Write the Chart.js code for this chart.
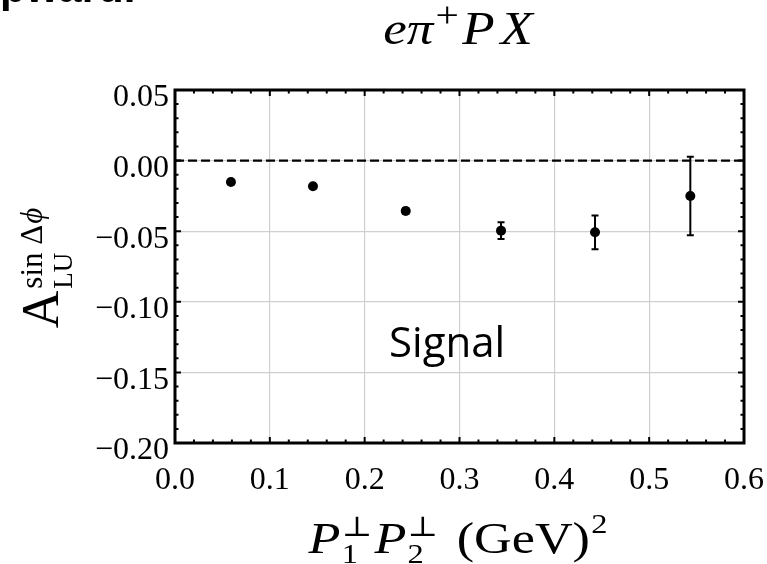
<!DOCTYPE html>
<html lang="en">
<head>
<meta charset="UTF-8">
<title>A_LU sin dphi vs P1 P2</title>
<script src="https://cdn.jsdelivr.net/npm/chart.js"></script>
<style>
  html, body { margin: 0; padding: 0; background: #fff; }
  canvas { display: block; }
</style>
</head>
<body>
<canvas id="asymChart" width="767" height="564"></canvas>
<script>
// values
const ptPerp  = [0.059, 0.1455, 0.2433, 0.3438, 0.4429, 0.5434];
const asym    = [-0.0152, -0.0182, -0.0357, -0.0496, -0.0508, -0.0251];
const asymErr = [0.0012, 0.0012, 0.0022, 0.0059, 0.0119, 0.0278];

const xTicks = [0.0, 0.1, 0.2, 0.3, 0.4, 0.5, 0.6];
const yTicks = [-0.20, -0.15, -0.10, -0.05, 0.00, 0.05];

const SERIF = '"Liberation Serif", "DejaVu Serif", serif';

// draws a row of text pieces, "back" pieces are stacked under the previous one (sub/sup)
function runs(ctx, list, x, y, sx, draw) {
  let cur = 0, lastStart = 0, maxX = 0;
  ctx.save();
  ctx.translate(x, y);
  ctx.scale(sx, 1);
  list.forEach(r => {
    ctx.font = r.f;
    if (r.back) cur = lastStart;
    cur += r.gap || 0;
    lastStart = cur;
    if (draw) ctx.fillText(r.t, cur, r.dy || 0);
    cur += ctx.measureText(r.t).width;
    if (r.back) cur = Math.max(cur, maxX);
    maxX = Math.max(maxX, cur);
  });
  ctx.restore();
  return maxX * sx;
}

function centered(ctx, list, cx, y, sx) {
  const w = runs(ctx, list, 0, 0, sx, false);
  runs(ctx, list, cx - w / 2, y, sx, true);
}

const decor = {
  id: 'decor',
  afterDatasetsDraw(chart) {
    const ctx = chart.ctx, xs = chart.scales.x, ys = chart.scales.y;
    ctx.save();
    ctx.strokeStyle = '#000';
    ctx.lineWidth = 2;
    ptPerp.forEach((xv, i) => {
      const px = xs.getPixelForValue(xv);
      const top = ys.getPixelForValue(asym[i] + asymErr[i]);
      const bot = ys.getPixelForValue(asym[i] - asymErr[i]);
      ctx.beginPath();
      ctx.moveTo(px, top); ctx.lineTo(px, bot);
      ctx.moveTo(px - 3.5, top); ctx.lineTo(px + 3.5, top);
      ctx.moveTo(px - 3.5, bot); ctx.lineTo(px + 3.5, bot);
      ctx.stroke();
    });
    ctx.restore();
  },
  afterDraw(chart) {
    const ctx = chart.ctx, a = chart.chartArea;
    const xs = chart.scales.x, ys = chart.scales.y;
    ctx.save();
    ctx.strokeStyle = '#000';
    ctx.fillStyle = '#000';

    // inward ticks on all four sides
    ctx.lineWidth = 2;
    ctx.beginPath();
    for (let k = 0; k <= 30; k++) {
      const len = k % 5 === 0 ? 6 : 3.5;
      const px = xs.getPixelForValue(k * 0.02);
      ctx.moveTo(px, a.bottom); ctx.lineTo(px, a.bottom - len);
      ctx.moveTo(px, a.top); ctx.lineTo(px, a.top + len);
    }
    for (let k = 0; k <= 25; k++) {
      const len = k % 5 === 0 ? 6 : 3.5;
      const py = ys.getPixelForValue(-0.20 + k * 0.01);
      ctx.moveTo(a.left, py); ctx.lineTo(a.left + len, py);
      ctx.moveTo(a.right, py); ctx.lineTo(a.right - len, py);
    }
    ctx.stroke();

    // frame
    ctx.lineWidth = 3;
    ctx.strokeRect(a.left, a.top, a.right - a.left, a.bottom - a.top);

    ctx.textBaseline = 'alphabetic';
    ctx.textAlign = 'left';

    // cropped heading remnant at the top left
    ctx.font = 'bold 42px "Liberation Sans", sans-serif';
    ctx.fillText('pward.', 0, 2);

    // title
    centered(ctx, [
      { t: 'eπ', f: `italic 46px ${SERIF}` },
      { t: '+', f: `36px ${SERIF}`, dy: -17, gap: 2 },
      { t: 'P', f: `italic 46px ${SERIF}`, gap: 3 },
      { t: 'X', f: `italic 46px ${SERIF}`, gap: 5 }
    ], 458, 44, 1.15);

    // x title
    centered(ctx, [
      { t: 'P', f: `italic 45px ${SERIF}` },
      { t: '⊥', f: `28px ${SERIF}`, dy: -17, gap: 1 },
      { t: '1', f: `28px ${SERIF}`, dy: 10, back: true },
      { t: 'P', f: `italic 45px ${SERIF}`, gap: 2 },
      { t: '⊥', f: `28px ${SERIF}`, dy: -17, gap: 1 },
      { t: '2', f: `28px ${SERIF}`, dy: 10, back: true },
      { t: '(GeV)', f: `45px ${SERIF}`, gap: 16 },
      { t: '2', f: `28px ${SERIF}`, dy: -20, gap: 1 }
    ], 458, 553, 1.16);

    // y title, rotated
    ctx.save();
    ctx.translate(58, 268);
    ctx.rotate(-Math.PI / 2);
    const supList = [
      { t: 'A', f: `52px ${SERIF}` },
      { t: 'sin Δ', f: `31px ${SERIF}`, dy: -16, gap: 2 },
      { t: 'ϕ', f: `italic 31px ${SERIF}`, dy: -16, gap: 1 }
    ];
    const wA = runs(ctx, [supList[0]], 0, 0, 1, false);
    const w = runs(ctx, supList, 0, 0, 1, false);
    runs(ctx, supList, -w / 2, 0, 1, true);
    runs(ctx, [{ t: 'LU', f: `27px ${SERIF}`, dy: 14 }], -w / 2 + wA + 2, 0, 1, true);
    ctx.restore();

    // label inside the plot
    ctx.font = '42px "Open Sans", sans-serif';
    ctx.fillText('Signal', 389, 357);

    ctx.restore();
  }
};

new Chart(document.getElementById('asymChart').getContext('2d'), {
  type: 'scatter',
  data: {
    datasets: [
      {
        label: 'Signal',
        data: ptPerp.map((x, i) => ({ x: x, y: asym[i] })),
        backgroundColor: '#000',
        borderColor: '#000',
        pointRadius: 5,
        pointBorderWidth: 0,
        pointHoverRadius: 5
      },
      {
        type: 'line',
        label: 'zero',
        data: [{ x: xTicks[0], y: 0 }, { x: xTicks[xTicks.length - 1], y: 0 }],
        borderColor: '#000',
        borderWidth: 2.3,
        borderDash: [9, 4],
        pointRadius: 0,
        fill: false
      }
    ]
  },
  options: {
    responsive: false,
    animation: false,
    layout: { padding: { left: 0, top: 90, right: 23, bottom: 0 } },
    plugins: { legend: { display: false }, tooltip: { enabled: false } },
    scales: {
      x: {
        type: 'linear',
        min: 0,
        max: 0.6,
        afterBuildTicks: s => { s.ticks = xTicks.map(v => ({ value: v })); },
        afterFit: s => { s.height = 121; s.paddingLeft = 0; s.paddingRight = 0; },
        grid: { color: '#cfcfcf', lineWidth: 1.2, drawTicks: false },
        border: { display: false },
        ticks: {
          color: '#000',
          font: { family: SERIF, size: 32 },
          padding: 18,
          maxRotation: 0,
          callback: v => v.toFixed(1)
        }
      },
      y: {
        type: 'linear',
        min: -0.2,
        max: 0.05,
        afterBuildTicks: s => { s.ticks = yTicks.map(v => ({ value: v })); },
        afterFit: s => { s.width = 175; s.paddingTop = 0; s.paddingBottom = 0; },
        grid: { color: '#cfcfcf', lineWidth: 1.2, drawTicks: false },
        border: { display: false },
        ticks: {
          color: '#000',
          font: { family: SERIF, size: 32 },
          padding: 6,
          labelOffset: 8,
          callback: v => v.toFixed(2).replace('-', '\u2212')
        }
      }
    }
  },
  plugins: [decor]
});
</script>
</body>
</html>
